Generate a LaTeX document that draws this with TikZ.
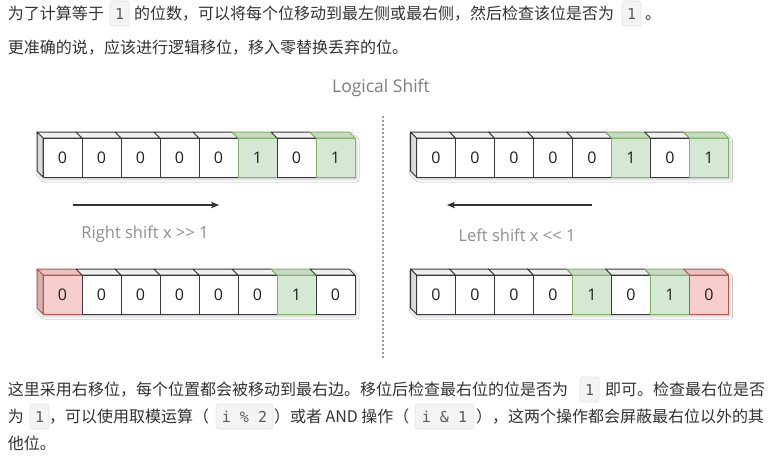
\documentclass[tikz,border=0pt]{standalone}
\usepackage{fontspec}
\setmainfont{Noto Sans CJK SC}
\newfontfamily\cjk{Noto Sans CJK SC}
\newfontfamily\monof{DejaVu Sans Mono}
\newfontfamily\diag{Open Sans}
\usetikzlibrary{arrows.meta,shadows.blur}
\definecolor{txtc}{HTML}{333333}
\definecolor{codebg}{HTML}{F3F4F5}
\definecolor{codebd}{HTML}{E2E5E8}
\definecolor{codetx}{HTML}{5A5A5A}
\definecolor{fillw}{HTML}{FFFFFF}
\definecolor{linew}{HTML}{36393D}
\definecolor{fillg}{HTML}{D5E8D4}
\definecolor{lineg}{HTML}{82B366}
\definecolor{fillr}{HTML}{F8CECC}
\definecolor{liner}{HTML}{B85450}
\definecolor{lblc}{HTML}{8E8E8E}
\definecolor{ttlc}{HTML}{7E7E7E}
\definecolor{arrc}{HTML}{333333}
\definecolor{dashc}{HTML}{9A9A9A}
\newcommand\spreadto[2]{\hbox to #1{\XeTeXlinebreaklocale "zh"\XeTeXlinebreakskip=0pt plus 3pt\relax #2}}
\newcommand\bitrow[4]{%
  \path[rowshadow] (#2-6,#3-6) -- ++(312,0) -- ++(6,6) -- ++(0,39) -- ++(-312,0) -- ++(-6,-6) -- cycle;
  \foreach \v/\k [count=\i from 0] in {#4} {
    \pgfmathsetmacro\xx{#2+39*\i}
    \filldraw[face, fill=fill\k!94!black, draw=line\k] (\xx,#3) -- ++(39,0) -- ++(-6,-6) -- ++(-39,0) -- cycle;
    \node[cell, fill=fill\k, draw=line\k] (#1\i) at (\xx,#3) {\v};
    \ifnum\i=0
      \filldraw[face, fill=fill\k!86!black, draw=line\k] (\xx,#3) -- ++(-6,-6) -- ++(0,39) -- ++(6,6) -- cycle;
    \fi
  }%
}
\begin{document}
\begin{tikzpicture}[x=1pt,y=-1pt,
  txt/.style={font=\cjk\fontsize{16}{20}\selectfont, text=txtc, inner sep=0pt, outer sep=0pt, anchor=base west},
  code/.style={font=\monof\fontsize{15}{18}\selectfont, text=codetx, fill=codebg, draw=codebd, line width=0.8pt,
    rounded corners=3pt, inner xsep=5pt, inner ysep=0pt, text height=18pt, text depth=7pt, outer sep=0pt, anchor=base west},
  cell/.style={anchor=north west, minimum size=39pt, inner sep=0pt, outer sep=0pt, line width=1pt,
    font=\diag\fontsize{16}{19}\selectfont, text=black!88},
  face/.style={line width=1pt, line join=round},
  rowshadow/.style={fill=white, blur shadow={shadow xshift=1.5pt, shadow yshift=-2.5pt, shadow blur radius=2.5pt, shadow opacity=22}},
  shiftarrow/.style={draw=arrc, line width=1.1pt, -{Stealth[length=8pt,width=6.5pt,inset=2pt]}},
  sepline/.style={draw=dashc, line width=1.2pt, dash pattern=on 2pt off 2pt},
  lbl/.style={font=\diag\fontsize{16.5}{20}\selectfont, text=lblc, inner sep=0pt},
  ttl/.style={font=\diag\fontsize{17.5}{21}\selectfont, text=ttlc, inner sep=0pt}]
\fill[white] (0,0) rectangle (773,456);
\useasboundingbox (0,0) rectangle (773,456);

% top paragraph
\node[txt] (t1a) at (8,19) {为了计算等于};
\node[code] (c1a) at (110,19) {1};
\node[txt] (t1b) at (134,19) {的位数，可以将每个位移动到最左侧或最右侧，然后检查该位是否为};
\node[code] (c1b) at (622,19) {1};
\node[txt] (t1c) at (645,19) {。};
\node[txt] (t2) at (8,53) {更准确的说，应该进行逻辑移位，移入零替换丢弃的位。};

% diagram
\node[ttl] (title) at (381,88) {Logical Shift};
\coordinate (s1) at (383,116);
\coordinate (s2) at (383,359);
\draw[sepline] (s1) -- (s2);

\bitrow{la}{43}{138}{0/w,0/w,0/w,0/w,0/w,1/g,0/w,1/g}
\bitrow{lb}{43}{275}{0/r,0/w,0/w,0/w,0/w,0/w,1/g,0/w}
\bitrow{ra}{416.5}{138}{0/w,0/w,0/w,0/w,0/w,1/g,0/w,1/g}
\bitrow{rb}{416.5}{275}{0/w,0/w,0/w,0/w,1/g,0/w,1/g,0/r}

\coordinate (ra1) at (73,205);
\coordinate (ra2) at (219,205);
\draw[shiftarrow] (ra1) -- (ra2);
\coordinate (la1) at (592,205);
\coordinate (la2) at (447,205);
\draw[shiftarrow] (la1) -- (la2);
\node[lbl] (rlbl) at (145,234) {Right shift x >\kern0pt> 1};
\node[lbl] (llbl) at (517,235) {Left shift x <\kern0pt< 1};

% bottom paragraph
\node[txt] (b1a) at (8,395) {\spreadto{567pt}{这里采用右移位，每个位置都会被移动到最右边。移位后检查最右位的位是否为}};
\node[code] (d1a) at (580,395) {1};
\node[txt] (b1b) at (605,395) {即可。检查最右位是否};
\node[txt] (b2a) at (8,422) {为};
\node[code] (d2a) at (30,422) {1};
\node[txt] (b2b) at (49,422) {，可以使用取模运算（};
\node[code, minimum width=57pt] (d2b) at (216,422) {i \% 2};
\node[txt] (b2c) at (274,422) {）或者 AND 操作（};
\node[code, minimum width=59pt] (d2c) at (415,422) {i \& 1};
\node[txt] (b2d) at (476,422) {\spreadto{289pt}{），这两个操作都会屏蔽最右位以外的其}};
\node[txt] (b3) at (8,449) {他位。};
\end{tikzpicture}
\end{document}
